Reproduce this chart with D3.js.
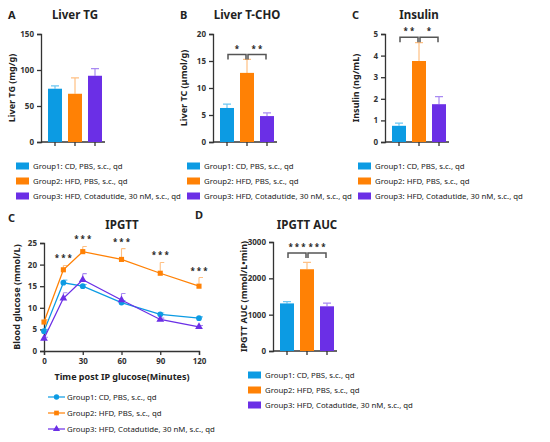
<!DOCTYPE html>
<html><head><meta charset="utf-8">
<script src="https://cdn.jsdelivr.net/npm/d3@7"></script>
<style>body{margin:0;background:#fff}text{font-family:"Noto Sans",sans-serif}</style>
</head><body>
<svg id="fig" width="550" height="442"></svg>
<script>
'use strict';

var groups = ["Group1: CD, PBS, s.c., qd", "Group2: HFD, PBS, s.c., qd", "Group3: HFD, Cotadutide, 30 nM, s.c., qd"];
var colors = ["#0c9be3", "#ff8105", "#6b2fe6"];
var errColors = ["#6cc6f2", "#ffc083", "#a98af2"];

var tgMean = [74, 67, 92], tgErr = [4, 22, 10];
var tcMean = [6.3, 12.8, 4.8], tcErr = [0.7, 2.5, 0.6];
var insMean = [0.75, 3.75, 1.75], insErr = [0.12, 0.85, 0.35];
var aucMean = [1310, 2250, 1230], aucErr = [50, 190, 90];

var times = [0, 15, 30, 60, 90, 120];
var g1 = [4.6, 15.8, 15.0, 11.2, 8.5, 7.6], g1Err = [0.4, 0.6, 0.4, 0.5, 0.3, 0.3];
var g2 = [6.7, 18.8, 23.0, 21.2, 18.0, 15.0], g2Err = [0.5, 1.0, 1.2, 2.5, 2.5, 2.0];
var g3 = [2.9, 12.2, 16.5, 11.8, 7.3, 5.6], g3Err = [0.3, 1.3, 1.4, 1.5, 0.3, 0.3];
var starTimes = [15, 30, 60, 90, 120];

var svg = d3.select("#fig");

function label(x, y, t, size, anchor, bold) {
  return svg.append("text").attr("x", x).attr("y", y).text(t)
    .attr("font-size", size).attr("text-anchor", anchor || "start")
    .attr("font-weight", bold ? "bold" : "normal").attr("fill", "#222");
}

function styleAxis(g) {
  g.selectAll("path,line").attr("stroke", "#333").attr("stroke-width", 1.3);
  g.selectAll("text").attr("font-size", 8).attr("font-weight", "bold").attr("fill", "#333");
}

function barPanel(opt) {
  var y = d3.scaleLinear().domain([0, opt.max]).range([opt.bottom, opt.top]);
  var x = d3.scaleBand().domain([0, 1, 2]).range([opt.left + 4, opt.left + 64]).paddingInner(0.3).paddingOuter(0.15);
  var ga = svg.append("g").attr("transform", "translate(" + opt.left + ",0)")
    .call(d3.axisLeft(y).tickValues(opt.ticks).tickSize(4).tickFormat(d3.format("d")));
  styleAxis(ga);
  var gx = svg.append("g").attr("transform", "translate(0," + opt.bottom + ")")
    .call(d3.axisBottom(x).tickSize(4).tickFormat(""));
  styleAxis(gx);
  gx.select("path").attr("d", "M" + opt.left + ",0H" + (opt.left + 64));
  var g = svg.append("g");
  g.selectAll(".err").data(opt.mean).join("path")
    .attr("d", function (d, i) {
      var cx = x(i) + x.bandwidth() / 2, yt = y(d + opt.err[i]);
      return "M" + cx + "," + y(d) + "V" + yt + "M" + (cx - 4) + "," + yt + "H" + (cx + 4);
    })
    .attr("stroke", function (d, i) { return errColors[i]; }).attr("stroke-width", 1.2).attr("fill", "none");
  g.selectAll("rect").data(opt.mean).join("rect")
    .attr("x", function (d, i) { return x(i); }).attr("width", x.bandwidth())
    .attr("y", function (d) { return y(d); }).attr("height", function (d) { return opt.bottom - y(d); })
    .attr("fill", function (d, i) { return colors[i]; });
  (opt.sig || []).forEach(function (s) {
    var x1 = x(s.a) + x.bandwidth() / 2, x2 = x(s.b) + x.bandwidth() / 2, yy = y(s.y);
    svg.append("path").attr("d", "M" + (x1 + 1) + "," + (yy + 5) + "V" + yy + "H" + (x2 - 1) + "V" + (yy + 5))
      .attr("stroke", "#555").attr("stroke-width", 1.5).attr("fill", "none");
    label((x1 + x2) / 2, yy - 3, s.t, 8, "middle", true);
  });
  label(0, 0, opt.ylab, 9, "middle", true)
    .attr("transform", "translate(" + (opt.left - 26) + "," + ((opt.top + opt.bottom) / 2) + ") rotate(-90)");
  label(opt.left + 34, opt.titleY, opt.title, 11.5, "middle", true);
  label(opt.left - 33, opt.titleY, opt.letter, 11, "start", true);
}

function legend(x0, y0, step, line) {
  groups.forEach(function (gname, i) {
    var yy = y0 + i * step;
    if (line) {
      svg.append("line").attr("x1", x0).attr("x2", x0 + 17).attr("y1", yy).attr("y2", yy)
        .attr("stroke", colors[i]).attr("stroke-width", 1.2);
      var sym = [d3.symbolCircle, d3.symbolSquare, d3.symbolTriangle][i];
      svg.append("path").attr("d", d3.symbol(sym, 22)()).attr("transform", "translate(" + (x0 + 8.5) + "," + yy + ")")
        .attr("fill", colors[i]);
      label(x0 + 19, yy + 3, gname, 7.8);
    } else {
      svg.append("rect").attr("x", x0).attr("y", yy - 3.5).attr("width", 13).attr("height", 7).attr("fill", colors[i]);
      label(x0 + 17, yy + 3, gname, 7.8);
    }
  });
}

barPanel({left: 41, top: 34, bottom: 142, max: 150, ticks: [0, 50, 100, 150], mean: tgMean, err: tgErr,
  ylab: "Liver TG (mg/g)", title: "Liver TG", letter: "A", titleY: 19});
barPanel({left: 213, top: 34, bottom: 142, max: 20, ticks: [0, 5, 10, 15, 20], mean: tcMean, err: tcErr,
  ylab: "Liver TC (μmol/g)", title: "Liver T-CHO", letter: "B", titleY: 19,
  sig: [{a: 0, b: 1, y: 16.2, t: "*"}, {a: 1, b: 2, y: 16.2, t: "* *"}]});
barPanel({left: 385, top: 34, bottom: 142, max: 5, ticks: [0, 1, 2, 3, 4, 5], mean: insMean, err: insErr,
  ylab: "Insulin (ng/mL)", title: "Insulin", letter: "C", titleY: 19,
  sig: [{a: 0, b: 1, y: 4.85, t: "* *"}, {a: 1, b: 2, y: 4.85, t: "*"}]});
barPanel({left: 273, top: 242, bottom: 351, max: 3000, ticks: [0, 1000, 2000, 3000], mean: aucMean, err: aucErr,
  ylab: "IPGTT AUC (mmol/L•min)", title: "IPGTT AUC", letter: "D", titleY: 229,
  sig: [{a: 0, b: 1, y: 2700, t: "* * *"}, {a: 1, b: 2, y: 2700, t: "* * *"}]});
svg.selectAll("text").filter(function () { return d3.select(this).text() === "D"; }).attr("y", 219).attr("x", 195);

legend(16, 166, 15, false);
legend(187, 166, 15, false);
legend(358, 166, 15, false);
legend(248, 375, 15, false);

// IPGTT line chart
(function () {
  var x = d3.scaleLinear().domain([0, 120]).range([44, 199]);
  var y = d3.scaleLinear().domain([0, 25]).range([351, 243]);
  var ga = svg.append("g").attr("transform", "translate(44,0)")
    .call(d3.axisLeft(y).tickValues([0, 5, 10, 15, 20, 25]).tickSize(4));
  styleAxis(ga);
  var gx = svg.append("g").attr("transform", "translate(0,351)")
    .call(d3.axisBottom(x).tickValues([0, 30, 60, 90, 120]).tickSize(4));
  styleAxis(gx);
  var series = [[g1, g1Err], [g2, g2Err], [g3, g3Err]];
  var syms = [d3.symbolCircle, d3.symbolSquare, d3.symbolTriangle];
  series.forEach(function (s, k) {
    var pts = times.map(function (t, i) { return {t: t, v: s[0][i], e: s[1][i]}; });
    svg.append("g").selectAll("path").data(pts).join("path")
      .attr("d", function (d) {
        var cx = x(d.t), yt = y(d.v + d.e);
        return "M" + cx + "," + y(d.v) + "V" + yt + "M" + cx + "," + yt + "H" + (cx + 4);
      })
      .attr("stroke", errColors[k]).attr("stroke-width", 1.1).attr("fill", "none");
    svg.append("path").datum(pts)
      .attr("d", d3.line().x(function (d) { return x(d.t); }).y(function (d) { return y(d.v); }))
      .attr("stroke", colors[k]).attr("stroke-width", 1.3).attr("fill", "none");
    svg.append("g").selectAll("path").data(pts).join("path")
      .attr("d", d3.symbol(syms[k], 26)())
      .attr("transform", function (d) { return "translate(" + x(d.t) + "," + y(d.v) + ")"; })
      .attr("fill", colors[k]);
  });
  starTimes.forEach(function (t) {
    var i = times.indexOf(t);
    label(x(t), y(g2[i] + g2Err[i]) - 4, "* * *", 8, "middle", true);
  });
  label(0, 0, "Blood glucose (mmol/L)", 9, "middle", true)
    .attr("transform", "translate(20,297) rotate(-90)");
  label(122, 380, "Time post IP glucose(Minutes)", 9, "middle", true);
  label(122, 229, "IPGTT", 11.5, "middle", true);
  label(8, 222, "C", 11, "start", true);
  legend(48, 397, 16, true);
})();
</script>
</body></html>
